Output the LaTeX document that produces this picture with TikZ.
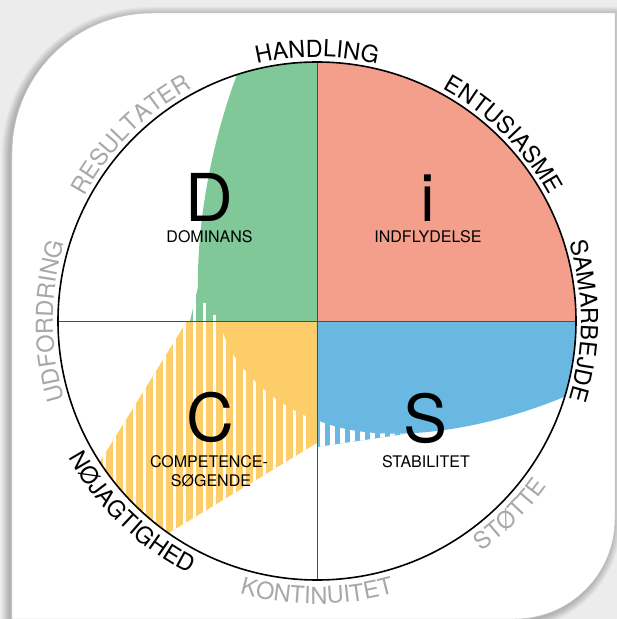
\documentclass[tikz,border=0pt]{standalone}
\usepackage{fontspec}
\setmainfont{TeX Gyre Heros}
\usetikzlibrary{decorations.text}

\definecolor{dpink}{RGB}{243,159,139}
\definecolor{dgreen}{RGB}{128,200,152}
\definecolor{dyellow}{RGB}{252,205,105}
\definecolor{dblue}{RGB}{104,184,226}
\definecolor{dgray}{RGB}{168,168,168}
\definecolor{bggray}{RGB}{236,236,236}

\def\cardshape{(-305,-298) -- (-305,168) arc[start angle=180, end angle=90, radius=140] -- (298,308) -- (298,-198) arc[start angle=0, end angle=-90, radius=100] -- cycle}

\begin{document}
\begin{tikzpicture}[x=1pt, y=1pt,
  bigletter/.style={font=\fontsize{66}{66}\selectfont, anchor=base},
  quadname/.style={font=\fontsize{16}{16}\selectfont, anchor=base},
  ringtext/.style 2 args={decorate, decoration={text along path, text align=center,
    text={|\fontsize{23.5}{23.5}\selectfont\color{#1}|#2}}}]
\useasboundingbox (-317,-298) rectangle (300,321);
\fill[bggray] (-317,-298) rectangle (300,321);

% card with soft shadow
\foreach \w in {2,4,...,16}
  \draw[black, opacity=0.03, line width=\w pt, shift={(-2,-2)}] \cardshape;
\fill[white] \cardshape;
\draw[black!25, line width=0.5pt] \cardshape;

\coordinate (O) at (0,0);

% quadrants
\fill[dpink] (O) -- (0:259) arc[start angle=0, end angle=90, radius=259] -- cycle;

\fill[dgreen] (O) -- (90:259) arc[start angle=90, end angle=108, radius=259]
  .. controls (-105,180) and (-120,100) .. (-119,34) -- (-127,0) -- cycle;
\foreach \gx/\gy in {-122.5/34, -112.5/18, -102.5/6}
  \draw[white, line width=3.4pt] (\gx,0) -- (\gx,\gy);

\begin{scope}
  \clip (-130,0) -- (0,0) -- (0,-122) -- (235:259) arc[start angle=235, end angle=213, radius=259] -- cycle;
  \fill[dyellow] (-260,-260) rectangle (0,0);
  \foreach \k in {0,...,22}
    \draw[white, line width=3.4pt] ({-12.5-10*\k},-260) -- ++(0,260);
\end{scope}
\fill[dyellow] (-97,0) .. controls (-90,-40) and (-50,-80) .. (0,-100) -- (0,0) -- cycle;

\begin{scope}
  \clip (0,-60) -- (0,-126) -- (88,-113) -- (88,-60) -- cycle;
  \fill[dblue] (0,-130) rectangle (88,-60);
  \foreach \k in {0,...,8}
    \draw[white, line width=5.5pt] ({5.5+10*\k},-130) -- ++(0,70);
\end{scope}
\fill[dblue] (O) -- (0:259) arc[start angle=0, end angle=-17, radius=259]
  .. controls (160,-112) and (60,-125) .. (0,-99) -- cycle;

% cross and ring
\draw[black!70, line width=0.9pt] (90:259) -- (270:259);
\draw[black!70, line width=0.9pt] (180:259) -- (0:259);
\draw[line width=1.6pt] (O) circle[radius=259];

% quadrant letters
\node[bigletter] (D) at (-107.5,100) {D};
\node[quadname] (Dname) at (-107.5,79) {DOMINANS};
\node[bigletter] (I) at (111,100) {i};
\node[quadname] (Iname) at (111,79) {INDFLYDELSE};
\node[bigletter] (C) at (-107,-120) {C};
\node[quadname] (Cname) at (-108,-146) {COMPETENCE-};
\node[quadname] (Cname2) at (-106,-165) {SØGENDE};
\node[bigletter] (S) at (109,-121) {S};
\node[quadname] (Sname) at (109,-146) {STABILITET};

% ring words, upper half
\path[ringtext={black}{HANDLING}] (130:264) arc[start angle=130, end angle=50, radius=264];
\path[ringtext={black}{ENTUSIASME}] (85:264) arc[start angle=85, end angle=5, radius=264];
\path[ringtext={black}{SAMARBEJDE}] (40:264) arc[start angle=40, end angle=-40, radius=264];
\path[ringtext={dgray}{RESULTATER}] (175:264) arc[start angle=175, end angle=95, radius=264];
\path[ringtext={dgray}{UDFORDRING}] (220:264) arc[start angle=220, end angle=140, radius=264];
% ring words, lower half
\path[ringtext={black}{NØJAGTIGHED}] (186:283) arc[start angle=186, end angle=266, radius=283];
\path[ringtext={dgray}{KONTINUITET}] (230:283) arc[start angle=230, end angle=310, radius=283];
\path[ringtext={dgray}{STØTTE}] (275:283) arc[start angle=275, end angle=355, radius=283];
\end{tikzpicture}
\end{document}
